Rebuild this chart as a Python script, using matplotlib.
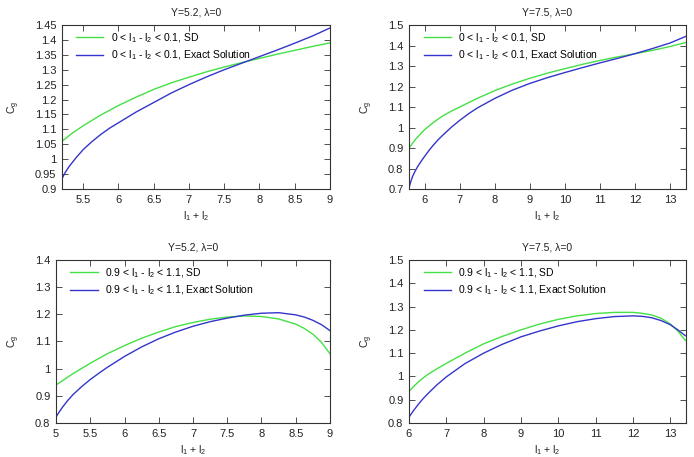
import numpy as np
import matplotlib.pyplot as plt
from matplotlib.ticker import FuncFormatter, MultipleLocator

plt.rcParams['font.family'] = ['Liberation Sans', 'DejaVu Sans']
plt.rcParams['mathtext.default'] = 'regular'

GREEN = '#44e044'
BLUE = '#3535cc'

# top left: Y=5.2, 0 < l1-l2 < 0.1
tl_sd_x = [5.2, 5.35, 5.5, 5.75, 6, 6.25, 6.5, 6.75, 7, 7.25, 7.5, 7.75, 8, 8.25, 8.5, 8.75, 9]
tl_sd_y = [1.060, 1.088, 1.112, 1.148, 1.180, 1.208, 1.234, 1.256, 1.275, 1.293, 1.309, 1.324,
           1.338, 1.352, 1.365, 1.378, 1.390]
tl_ex_x = [5.2, 5.25, 5.3, 5.4, 5.5, 5.625, 5.75, 5.875, 6, 6.25, 6.5, 6.75, 7, 7.25, 7.5, 7.75,
           8, 8.25, 8.5, 8.75, 9]
tl_ex_y = [0.935, 0.957, 0.975, 1.005, 1.032, 1.059, 1.083, 1.104, 1.122, 1.158, 1.190, 1.222,
           1.250, 1.276, 1.300, 1.322, 1.344, 1.366, 1.389, 1.413, 1.440]

# top right: Y=7.5, 0 < l1-l2 < 0.1
tr_sd_x = [5.55, 5.65, 5.75, 5.875, 6, 6.25, 6.5, 6.75, 7, 7.5, 8, 8.5, 9, 9.5, 10, 10.5, 11,
           11.5, 12, 12.5, 13, 13.46]
tr_sd_y = [0.900, 0.923, 0.945, 0.968, 0.990, 1.025, 1.055, 1.079, 1.100, 1.142, 1.180, 1.212,
           1.240, 1.265, 1.287, 1.308, 1.327, 1.344, 1.360, 1.376, 1.395, 1.415]
tr_ex_x = [5.55, 5.6, 5.65, 5.725, 5.8, 5.9, 6, 6.125, 6.25, 6.375, 6.5, 6.75, 7, 7.25, 7.5, 8,
           8.5, 9, 9.5, 10, 10.5, 11, 11.5, 12, 12.5, 13, 13.46]
tr_ex_y = [0.705, 0.735, 0.760, 0.787, 0.810, 0.836, 0.860, 0.889, 0.915, 0.939, 0.960, 1.000,
           1.035, 1.067, 1.095, 1.142, 1.182, 1.215, 1.243, 1.268, 1.292, 1.315, 1.337, 1.360,
           1.385, 1.412, 1.445]

# bottom left: Y=5.2, 0.9 < l1-l2 < 1.1
bl_sd_x = [5, 5.25, 5.5, 5.75, 6, 6.25, 6.5, 6.75, 7, 7.25, 7.5, 7.75, 8, 8.25, 8.5, 8.625,
           8.75, 8.875, 9]
bl_sd_y = [0.940, 0.982, 1.020, 1.055, 1.085, 1.112, 1.135, 1.155, 1.170, 1.182, 1.190, 1.194,
           1.192, 1.183, 1.164, 1.148, 1.127, 1.097, 1.055]
bl_ex_x = [5, 5.05, 5.1, 5.175, 5.25, 5.375, 5.5, 5.625, 5.75, 6, 6.25, 6.5, 6.75, 7, 7.25, 7.5,
           7.75, 8, 8.25, 8.5, 8.625, 8.75, 8.875, 9]
bl_ex_y = [0.822, 0.842, 0.860, 0.884, 0.905, 0.934, 0.960, 0.983, 1.005, 1.045, 1.080, 1.110,
           1.135, 1.156, 1.173, 1.186, 1.197, 1.204, 1.206, 1.198, 1.190, 1.178, 1.162, 1.140]

# bottom right: Y=7.5, 0.9 < l1-l2 < 1.1
br_sd_x = [6, 6.125, 6.25, 6.375, 6.5, 6.75, 7, 7.5, 8, 8.5, 9, 9.5, 10, 10.5, 11, 11.5, 12,
           12.25, 12.5, 12.75, 13, 13.2, 13.4]
br_sd_y = [0.935, 0.957, 0.976, 0.993, 1.008, 1.033, 1.056, 1.100, 1.140, 1.172, 1.200, 1.225,
           1.245, 1.260, 1.270, 1.275, 1.275, 1.271, 1.264, 1.250, 1.225, 1.195, 1.155]
br_ex_x = [6, 6.125, 6.25, 6.375, 6.5, 6.75, 7, 7.5, 8, 8.5, 9, 9.5, 10, 10.5, 11, 11.5, 12,
           12.25, 12.5, 12.75, 13, 13.2, 13.4]
br_ex_y = [0.825, 0.854, 0.880, 0.904, 0.925, 0.964, 0.998, 1.055, 1.100, 1.138, 1.170, 1.195,
           1.217, 1.235, 1.248, 1.257, 1.260, 1.258, 1.252, 1.240, 1.222, 1.200, 1.175]

panels = [
    dict(rect=[0.0893, 0.5864, 0.3862, 0.3589], title='Y=5.2, λ=0', rng='0 < l$_1$ - l$_2$ < 0.1',
         xlim=(5.2, 9), ylim=(0.9, 1.45), xstep=0.5, ystep=0.05,
         sd=(tl_sd_x, tl_sd_y), ex=(tl_ex_x, tl_ex_y)),
    dict(rect=[0.5893, 0.5864, 0.3992, 0.3589], title='Y=7.5, λ=0', rng='0 < l$_1$ - l$_2$ < 0.1',
         xlim=(5.55, 13.46), ylim=(0.7, 1.5), xstep=1, ystep=0.1,
         sd=(tr_sd_x, tr_sd_y), ex=(tr_ex_x, tr_ex_y)),
    dict(rect=[0.0807, 0.0744, 0.3948, 0.3567], title='Y=5.2, λ=0', rng='0.9 < l$_1$ - l$_2$ < 1.1',
         xlim=(5, 9), ylim=(0.8, 1.4), xstep=0.5, ystep=0.1,
         sd=(bl_sd_x, bl_sd_y), ex=(bl_ex_x, bl_ex_y)),
    dict(rect=[0.5893, 0.0744, 0.3992, 0.3567], title='Y=7.5, λ=0', rng='0.9 < l$_1$ - l$_2$ < 1.1',
         xlim=(6, 13.42), ylim=(0.8, 1.5), xstep=1, ystep=0.1,
         sd=(br_sd_x, br_sd_y), ex=(br_ex_x, br_ex_y)),
]

fig = plt.figure(figsize=(6.94, 4.57), dpi=100)
fmt = FuncFormatter(lambda v, p: '%g' % round(v, 6))

for p in panels:
    ax = fig.add_axes(p['rect'])
    ax.plot(*p['sd'], color=GREEN, lw=1.0, label=p['rng'] + ', SD')
    ax.plot(*p['ex'], color=BLUE, lw=1.0, label=p['rng'] + ', Exact Solution')
    ax.set_xlim(*p['xlim'])
    ax.set_ylim(*p['ylim'])
    ax.xaxis.set_major_locator(MultipleLocator(p['xstep']))
    ax.yaxis.set_major_locator(MultipleLocator(p['ystep']))
    ax.xaxis.set_major_formatter(fmt)
    ax.yaxis.set_major_formatter(fmt)
    ax.tick_params(direction='in', length=4, width=0.6, top=True, right=True,
                   labelsize=8, pad=4, color='#333333', labelcolor='#222222')
    for s in ax.spines.values():
        s.set_linewidth(0.8)
        s.set_color('#333333')
    ax.set_title(p['title'], fontsize=7.5, pad=7, color='#222222')
    ax.set_xlabel('l$_1$ + l$_2$', fontsize=7.5, labelpad=3, color='#222222')
    ax.set_ylabel('C$_g$', fontsize=7.5, labelpad=9, color='#222222')
    ax.legend(loc='upper left', frameon=False, fontsize=7.5, handlelength=2.6,
              handletextpad=0.7, borderaxespad=0.2, labelspacing=0.35,
              bbox_to_anchor=(0.03, 1.0))

fig.savefig('out.png', dpi=100)
